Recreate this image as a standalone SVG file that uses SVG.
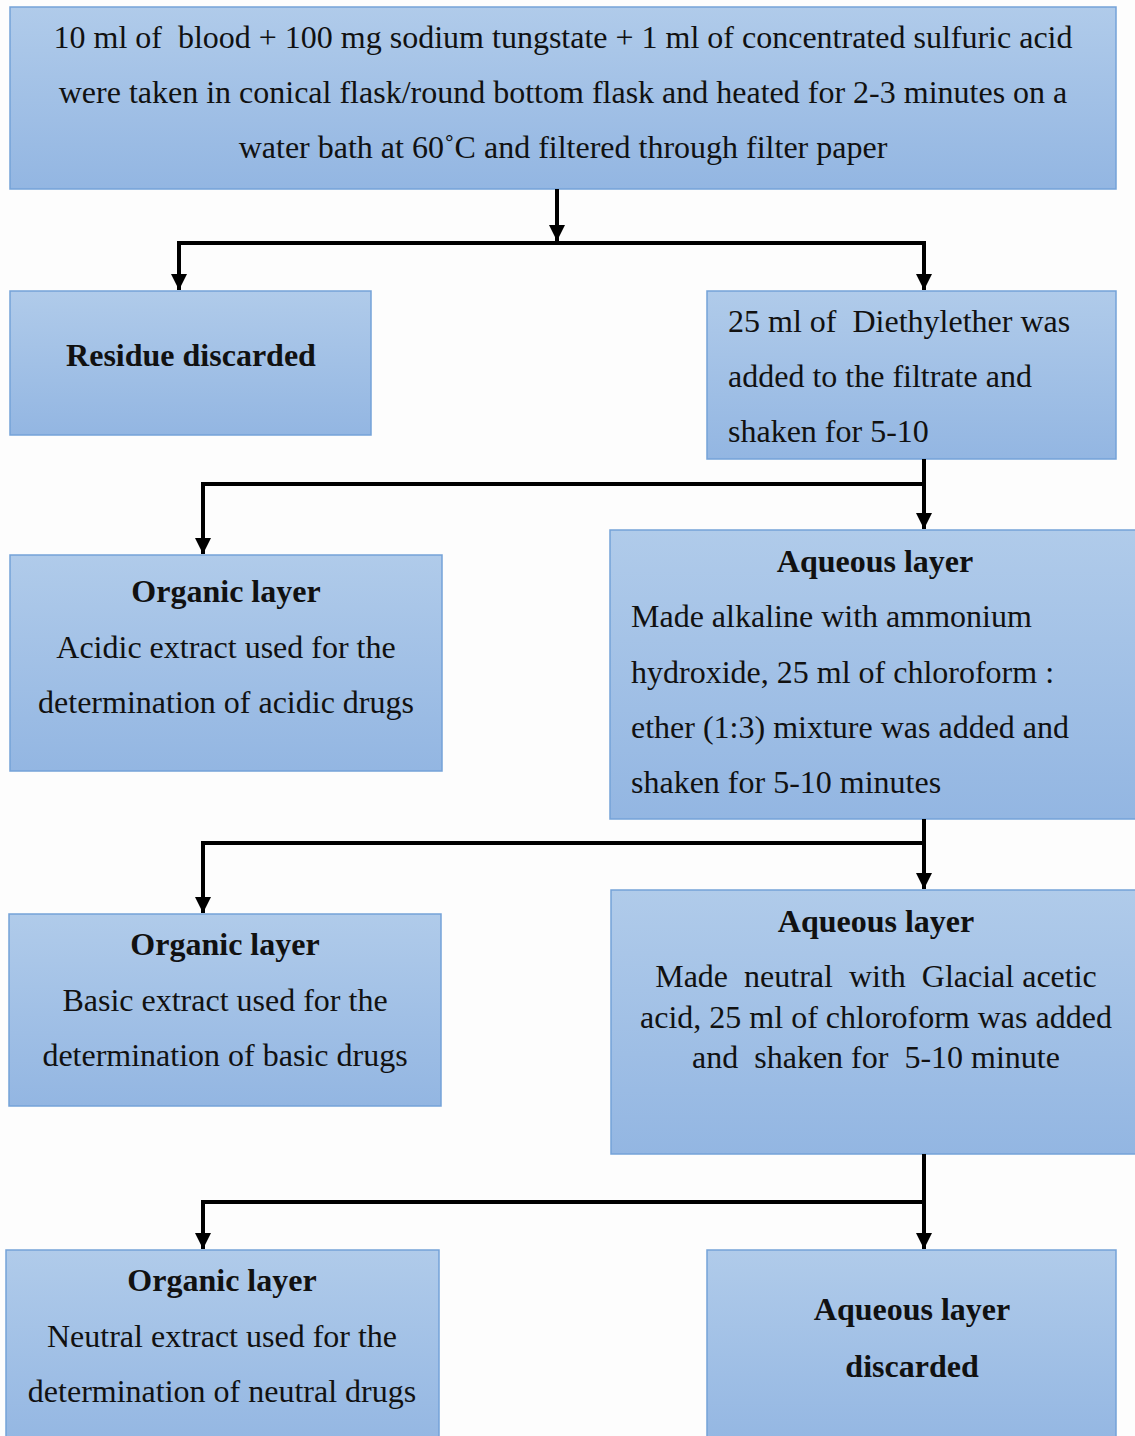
<svg xmlns="http://www.w3.org/2000/svg" width="1135" height="1436" viewBox="0 0 1135 1436">
<defs>
<linearGradient id="g" x1="0" y1="0" x2="0" y2="1">
<stop offset="0" stop-color="#b0cbea"/>
<stop offset="1" stop-color="#93b6e2"/>
</linearGradient>
<marker id="ah" viewBox="0 0 10 10" refX="10" refY="5" markerWidth="4" markerHeight="4" markerUnits="strokeWidth" orient="auto">
<path d="M0,0 L10,5 L0,10 z" fill="#000"/>
</marker>
<style>
.box{fill:url(#g);stroke:#74a2d8;stroke-width:1.5}
text{font-family:"Liberation Serif","Times New Roman",serif;font-size:32px;fill:#111;white-space:pre}
.b{font-weight:bold}
.c{text-anchor:middle}
.conn path{fill:none;stroke:#000;stroke-width:4}
</style>
</defs>
<rect width="1135" height="1436" fill="#fdfdfd"/>

<g id="n1">
<rect class="box" x="10" y="7" width="1106" height="182"/>
<text class="c" x="563" y="48">10 ml of  blood + 100 mg sodium tungstate + 1 ml of concentrated sulfuric acid</text>
<text class="c" x="563" y="103">were taken in conical flask/round bottom flask and heated for 2-3 minutes on a</text>
<text class="c" x="563" y="158">water bath at 60˚C and filtered through filter paper</text>
</g>

<g id="n2">
<rect class="box" x="10" y="291" width="361" height="144"/>
<text class="c b" x="191" y="366">Residue discarded</text>
</g>

<g id="n3">
<rect class="box" x="707" y="291" width="409" height="168"/>
<text x="728" y="332">25 ml of  Diethylether was</text>
<text x="728" y="387">added to the filtrate and</text>
<text x="728" y="442">shaken for 5-10</text>
</g>

<g id="n4">
<rect class="box" x="10" y="555" width="432" height="216"/>
<text class="c b" x="226" y="602">Organic layer</text>
<text class="c" x="226" y="658">Acidic extract used for the</text>
<text class="c" x="226" y="713">determination of acidic drugs</text>
</g>

<g id="n5">
<rect class="box" x="610" y="530" width="530" height="289"/>
<text class="c b" x="875" y="572">Aqueous layer</text>
<text x="631" y="627">Made alkaline with ammonium</text>
<text x="631" y="683">hydroxide, 25 ml of chloroform :</text>
<text x="631" y="738">ether (1:3) mixture was added and</text>
<text x="631" y="793">shaken for 5-10 minutes</text>
</g>

<g id="n6">
<rect class="box" x="9" y="914" width="432" height="192"/>
<text class="c b" x="225" y="955">Organic layer</text>
<text class="c" x="225" y="1011">Basic extract used for the</text>
<text class="c" x="225" y="1066">determination of basic drugs</text>
</g>

<g id="n7">
<rect class="box" x="611" y="890" width="530" height="264"/>
<text class="c b" x="876" y="932">Aqueous layer</text>
<text class="c" x="876" y="987">Made  neutral  with  Glacial acetic</text>
<text class="c" x="876" y="1028">acid, 25 ml of chloroform was added</text>
<text class="c" x="876" y="1068">and  shaken for  5-10 minute</text>
</g>

<g id="n8">
<rect class="box" x="6" y="1250" width="433" height="200"/>
<text class="c b" x="222" y="1291">Organic layer</text>
<text class="c" x="222" y="1347">Neutral extract used for the</text>
<text class="c" x="222" y="1402">determination of neutral drugs</text>
</g>

<g id="n9">
<rect class="box" x="707" y="1250" width="409" height="200"/>
<text class="c b" x="912" y="1320">Aqueous layer</text>
<text class="c b" x="912" y="1377">discarded</text>
</g>

<g class="conn" id="connectors">
<path d="M557,189 V241" marker-end="url(#ah)"/>
<path d="M177,243 H926"/>
<path d="M179,243 V290" marker-end="url(#ah)"/>
<path d="M924,243 V290" marker-end="url(#ah)"/>
<path d="M924,459 V529" marker-end="url(#ah)"/>
<path d="M201,484 H926"/>
<path d="M203,484 V554" marker-end="url(#ah)"/>
<path d="M924,819 V889" marker-end="url(#ah)"/>
<path d="M201,843 H926"/>
<path d="M203,843 V913" marker-end="url(#ah)"/>
<path d="M924,1154 V1249" marker-end="url(#ah)"/>
<path d="M201,1202 H926"/>
<path d="M203,1202 V1249" marker-end="url(#ah)"/>
</g>
</svg>
